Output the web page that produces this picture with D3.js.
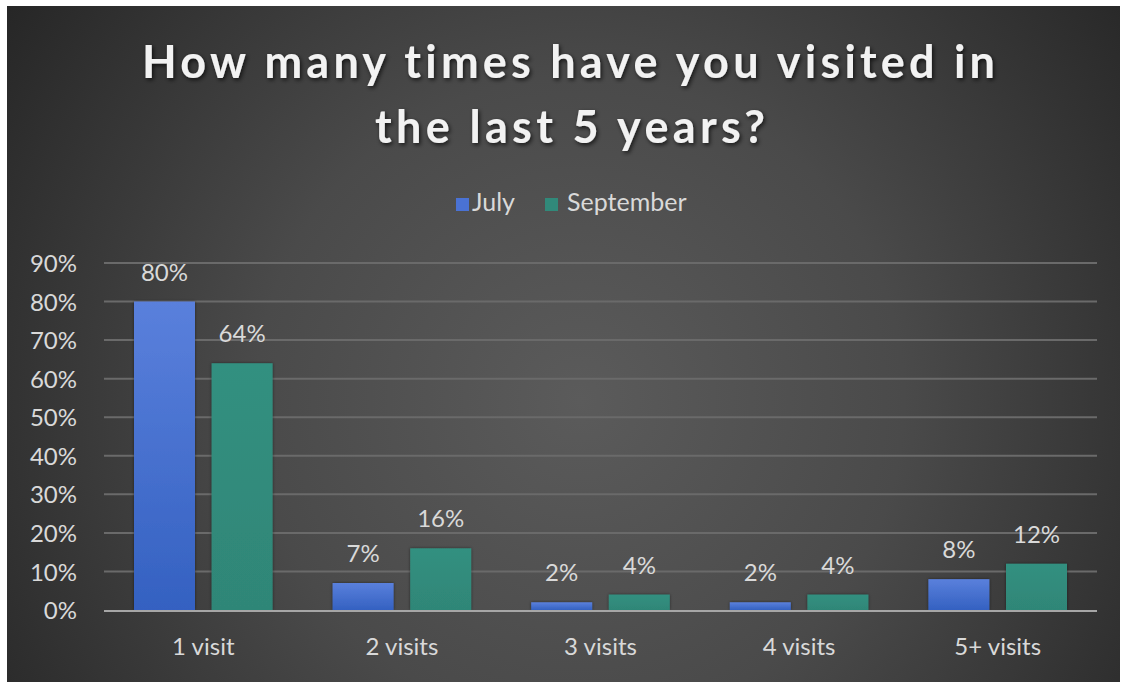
<!DOCTYPE html>
<html>
<head>
<meta charset="utf-8">
<script src="https://cdn.jsdelivr.net/npm/d3@7"></script>
<style>
  html, body { margin: 0; padding: 0; background: #ffffff; }
  svg { display: block; }
  text { font-family: Lato, "Open Sans", "DejaVu Sans", sans-serif; font-variant-ligatures: none; }
</style>
</head>
<body>
<svg id="chart" width="1121" height="683"></svg>
<script>
// Survey results: number of visits in the last 5 years
const categories = ["1 visit", "2 visits", "3 visits", "4 visits", "5+ visits"];
const seriesNames = ["July", "September"];
const julyValues = [80, 7, 2, 2, 8];
const septemberValues = [64, 16, 4, 4, 12];
const yTicks = [0, 10, 20, 30, 40, 50, 60, 70, 80, 90];
const titleLines = ["How many times have you visited in", "the last 5 years?"];

const seriesValues = { July: julyValues, September: septemberValues };

const svg = d3.select("#chart");
const W = 1121, H = 683;
const labelSize = 24;

const defs = svg.append("defs");

// Dark radial backdrop
const bg = defs.append("radialGradient")
  .attr("id", "bgGrad")
  .attr("gradientUnits", "userSpaceOnUse")
  .attr("cx", 580).attr("cy", 400).attr("r", 720);
bg.append("stop").attr("offset", "0%").attr("stop-color", "#5b5b5b");
bg.append("stop").attr("offset", "45%").attr("stop-color", "#4a4a4a");
bg.append("stop").attr("offset", "100%").attr("stop-color", "#242424");

const blueGrad = defs.append("linearGradient")
  .attr("id", "blueGrad").attr("x1", 0).attr("y1", 0).attr("x2", 0).attr("y2", 1);
blueGrad.append("stop").attr("offset", "0%").attr("stop-color", "#5a80dc");
blueGrad.append("stop").attr("offset", "100%").attr("stop-color", "#3461c1");

const tealGrad = defs.append("linearGradient")
  .attr("id", "tealGrad").attr("x1", 0).attr("y1", 0).attr("x2", 0).attr("y2", 1);
tealGrad.append("stop").attr("offset", "0%").attr("stop-color", "#329080");
tealGrad.append("stop").attr("offset", "100%").attr("stop-color", "#2f8677");

const titleShadow = defs.append("filter").attr("id", "titleShadow")
  .attr("x", "-10%").attr("y", "-30%").attr("width", "120%").attr("height", "160%");
titleShadow.append("feDropShadow")
  .attr("dx", 1.5).attr("dy", 2).attr("stdDeviation", 2)
  .attr("flood-color", "#000").attr("flood-opacity", 0.7);

const barShadow = defs.append("filter").attr("id", "barShadow")
  .attr("x", "-20%").attr("y", "-20%").attr("width", "140%").attr("height", "140%");
barShadow.append("feDropShadow")
  .attr("dx", 0).attr("dy", 0).attr("stdDeviation", 1.5)
  .attr("flood-color", "#000").attr("flood-opacity", 0.5);

const colors = { July: "url(#blueGrad)", September: "url(#tealGrad)" };
const swatch = { July: "#4a72d4", September: "#31897a" };

// Chart area
svg.append("rect")
  .attr("x", 7).attr("y", 6)
  .attr("width", W - 8).attr("height", H - 7)
  .attr("fill", "url(#bgGrad)");

// Title
const title = svg.append("g").attr("filter", "url(#titleShadow)");
const titleSpecs = [
  { y: 78, x0: 142, x1: 995 },
  { y: 143, x0: 375, x1: 765 }
];
titleLines.forEach((line, i) => {
  const s = titleSpecs[i];
  title.append("text")
    .attr("x", (s.x0 + s.x1) / 2)
    .attr("y", s.y)
    .attr("text-anchor", "middle")
    .attr("font-size", 45)
    .attr("font-weight", 700)
    .attr("fill", "#f2f2f2")
    .attr("textLength", s.x1 - s.x0)
    .attr("lengthAdjust", "spacing")
    .text(line);
});

// Scales
const plot = { left: 104, right: 1097, top: 263, bottom: 610 };
const x = d3.scaleBand().domain(categories).range([plot.left, plot.right]).padding(0);
const xInner = d3.scaleBand().domain(seriesNames)
  .range([30, x.bandwidth() - 30]).paddingInner(0.214).paddingOuter(0);
const y = d3.scaleLinear().domain([0, 90]).range([plot.bottom, plot.top]);

// Gridlines
svg.append("g")
  .selectAll("line")
  .data(yTicks.filter(t => t > 0))
  .join("line")
  .attr("x1", plot.left).attr("x2", plot.right)
  .attr("y1", d => y(d)).attr("y2", d => y(d))
  .attr("stroke", "#6a6a6a")
  .attr("stroke-width", 2);

// Y axis labels
const yAxis = svg.append("g")
  .attr("transform", `translate(${plot.left - 27},0)`)
  .call(d3.axisLeft(y).tickValues(yTicks).tickFormat(d => d + "%").tickSize(0).tickPadding(0));
yAxis.select(".domain").remove();
yAxis.selectAll("text")
  .attr("font-size", labelSize)
  .attr("fill", "#d9d9d9")
  .attr("dy", "0.36em")
  .style("font-family", "Lato, 'Open Sans', sans-serif");

// Bars
const groups = svg.append("g")
  .selectAll("g")
  .data(categories)
  .join("g")
  .attr("transform", d => `translate(${x(d)},0)`);

groups.selectAll("rect")
  .data((c, i) => seriesNames.map(s => ({ s, v: seriesValues[s][i] })))
  .join("rect")
  .attr("x", d => xInner(d.s))
  .attr("width", xInner.bandwidth())
  .attr("y", d => y(d.v))
  .attr("height", d => y(0) - y(d.v))
  .attr("fill", d => colors[d.s])
  .attr("filter", "url(#barShadow)");

// Data labels
groups.selectAll("text.val")
  .data((c, i) => seriesNames.map(s => ({ s, v: seriesValues[s][i] })))
  .join("text")
  .attr("class", "val")
  .attr("x", d => xInner(d.s) + xInner.bandwidth() / 2)
  .attr("y", d => y(d.v) - 21)
  .attr("text-anchor", "middle")
  .attr("font-size", labelSize)
  .attr("fill", "#d9d9d9")
  .text(d => d.v + "%");

// X axis line and category labels
svg.append("line")
  .attr("x1", plot.left).attr("x2", plot.right)
  .attr("y1", y(0) + 1).attr("y2", y(0) + 1)
  .attr("stroke", "#a6a6a6")
  .attr("stroke-width", 2);

const xAxis = svg.append("g")
  .attr("transform", `translate(0,${plot.bottom + 28})`)
  .call(d3.axisBottom(x).tickSize(0).tickPadding(0));
xAxis.select(".domain").remove();
xAxis.selectAll("text")
  .attr("font-size", labelSize)
  .attr("fill", "#d9d9d9")
  .attr("dy", "0.71em")
  .style("font-family", "Lato, 'Open Sans', sans-serif");

// Legend
const legend = svg.append("g");
const legendItems = [
  { s: "July", sx: 456, tx: 472 },
  { s: "September", sx: 545, tx: 567 }
];
legendItems.forEach(it => {
  legend.append("rect")
    .attr("x", it.sx).attr("y", 198)
    .attr("width", 13).attr("height", 13)
    .attr("fill", swatch[it.s]);
  legend.append("text")
    .attr("x", it.tx).attr("y", 211)
    .attr("font-size", 25)
    .attr("fill", "#d9d9d9")
    .text(it.s);
});
</script>
</body>
</html>
